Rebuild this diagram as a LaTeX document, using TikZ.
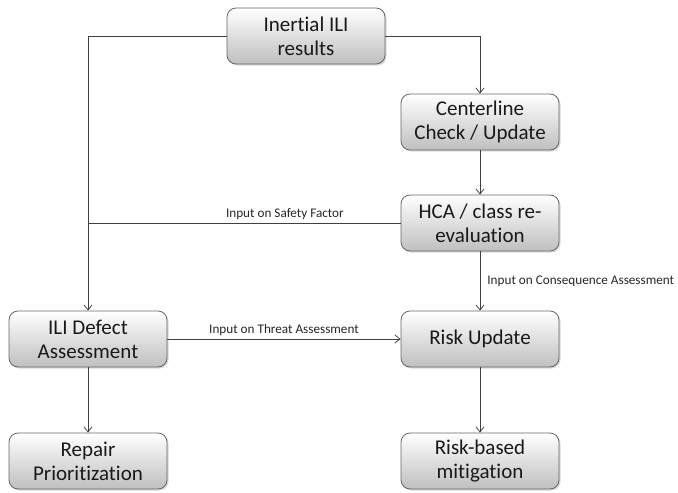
\documentclass[tikz,border=0pt]{standalone}
\usepackage{fontspec}
\setmainfont{Carlito}[Ligatures={NoCommon}]
\usetikzlibrary{arrows.meta,shadows}
\tikzset{
  stepbox/.style={
    draw=black!60, line width=0.8pt, rounded corners=9pt,
    top color=white, bottom color=black!25,
    minimum width=158pt, minimum height=56pt, inner sep=2pt,
    align=center, text=black!90,
    font=\fontsize{21}{24}\selectfont,
    drop shadow={shadow xshift=1.5pt, shadow yshift=-1.5pt, opacity=0.3}
  },
  flow/.style={draw=black!75, line width=0.8pt, -{Straight Barb[length=5pt,width=8pt]}},
  plain/.style={draw=black!75, line width=0.8pt},
  edgelabel/.style={font=\fontsize{13.2}{15}\selectfont, text=black!85, inner sep=3pt}
}
\begin{document}
\begin{tikzpicture}[x=1pt,y=-1pt]
  \useasboundingbox (0,0) rectangle (678,493);
  % boxes
  \node[stepbox] (inertial) at (306,36)  {Inertial ILI\\results};
  \node[stepbox] (center)   at (480,122) {Centerline\\Check / Update};
  \node[stepbox] (hca)      at (480,223) {HCA / class re-\\evaluation};
  \node[stepbox] (defect)   at (88,339)  {ILI Defect\\Assessment};
  \node[stepbox] (risk)     at (480,339) {Risk Update};
  \node[stepbox] (repair)   at (88,461)  {Repair\\Prioritization};
  \node[stepbox] (mitig)    at (480,461) {Risk-based\\mitigation};
  % connectors
  \draw[flow] (inertial.west) -| (defect.north);
  \draw[flow] (inertial.east) -| (center.north);
  \draw[flow] (center) -- (hca);
  \draw[plain] (hca.west) -- (hca.west -| defect.north)
    node[edgelabel, pos=0.37, above] {Input on Safety Factor};
  \draw[flow] (hca) -- (risk)
    node[edgelabel, midway, right, xshift=4pt] {Input on Consequence Assessment};
  \draw[flow] (defect) -- (risk)
    node[edgelabel, midway, above] {Input on Threat Assessment};
  \draw[flow] (defect) -- (repair);
  \draw[flow] (risk) -- (mitig);
\end{tikzpicture}
\end{document}
